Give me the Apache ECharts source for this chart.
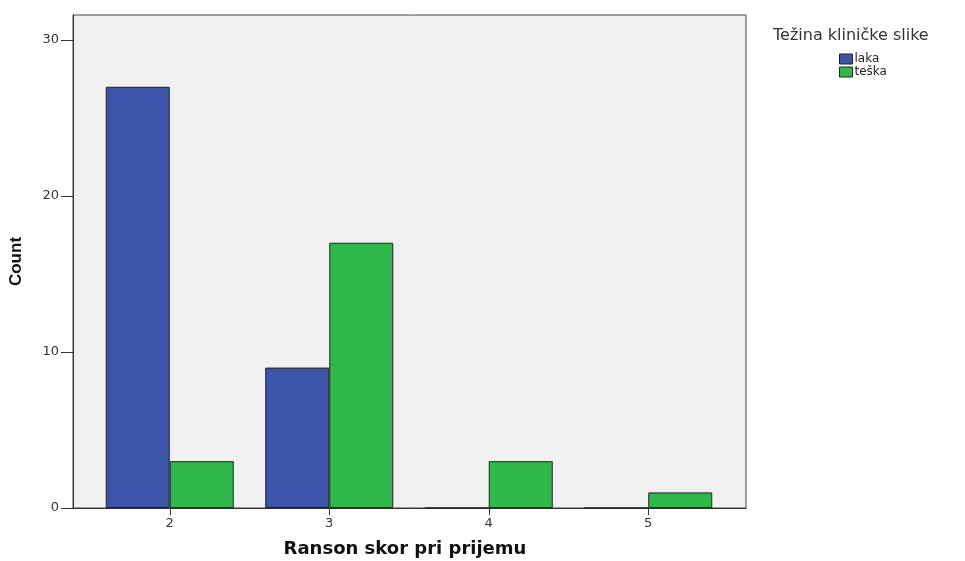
<!DOCTYPE html>
<html>
<head>
<meta charset="utf-8">
<script src="https://cdn.jsdelivr.net/npm/echarts@6/dist/echarts.min.js"></script>
<style>
  html, body { margin: 0; padding: 0; background: #fff; }
  #chart { width: 965px; height: 561px; }
</style>
</head>
<body>
<div id="chart"></div>
<script>
// data
var categories = ["2", "3", "4", "5"];
var laka = [27, 9, 0, 0];
var teska = [3, 17, 3, 1];
var yTicks = [0, 10, 20, 30];

var font = "'DejaVu Sans', Verdana, sans-serif";
var chart = echarts.init(document.getElementById("chart"));

var option = {
  animation: false,
  backgroundColor: "#fff",
  title: {
    text: "Težina kliničke slike",
    left: 768,
    top: 23,
    textStyle: { fontFamily: font, fontSize: 16, fontWeight: "normal", color: "#333" }
  },
  legend: {
    orient: "vertical",
    left: 834,
    top: 48,
    itemWidth: 13,
    itemHeight: 10,
    itemGap: 1,
    icon: "rect",
    data: ["laka", "teška"],
    itemStyle: { borderColor: "#222", borderWidth: 1 },
    textStyle: { fontFamily: font, fontSize: 12, color: "#222", padding: [0, 0, 0, -3] }
  },
  grid: [
    // frame / background of the plot
    { left: 73, right: 219, top: 15, bottom: 53, show: true, outerBoundsMode: "none",
      backgroundColor: "#f0f0f0", borderColor: "#444", borderWidth: 1 },
    // bars sit in an inner grid so the categories keep the side margins
    { left: 90, right: 237, top: 15, bottom: 53, outerBoundsMode: "none" }
  ],
  xAxis: [
    {
      gridIndex: 0, type: "value", min: 0, max: 1,
      axisLine: { show: true, lineStyle: { color: "#333", width: 1 } },
      axisTick: { show: false }, axisLabel: { show: false }, splitLine: { show: false }
    },
    {
      gridIndex: 1, type: "category", data: categories,
      axisLine: { show: false },
      axisTick: { show: true, alignWithLabel: true, length: 7, lineStyle: { color: "#333" } },
      axisLabel: { fontFamily: font, fontSize: 13, color: "#333", margin: 9 },
      name: "Ranson skor pri prijemu",
      nameLocation: "middle",
      nameGap: 32,
      nameTextStyle: { fontFamily: font, fontSize: 18, fontWeight: "bold", color: "#111", padding: [0, 0, 0, -8] }
    }
  ],
  yAxis: [
    {
      gridIndex: 0, type: "value", min: 0, max: 31.6, interval: 10,
      axisLine: { show: true, lineStyle: { color: "#333", width: 1 } },
      axisTick: { show: true, length: 12, customValues: yTicks, lineStyle: { color: "#333" } },
      axisLabel: { fontFamily: font, fontSize: 13, color: "#333", margin: 14, customValues: yTicks },
      splitLine: { show: false },
      name: "Count",
      nameLocation: "middle",
      nameGap: 48,
      nameTextStyle: { fontFamily: "'Liberation Sans Narrow', 'Liberation Sans', sans-serif", fontSize: 17, fontWeight: "bold", color: "#111" }
    },
    { gridIndex: 1, type: "value", min: 0, max: 31.6, show: false }
  ],
  series: [
    {
      name: "laka", type: "bar", xAxisIndex: 1, yAxisIndex: 1,
      data: laka, barWidth: 64, barGap: "0%",
      itemStyle: { color: "#3c55a8", borderColor: "#222", borderWidth: 1 }
    },
    {
      name: "teška", type: "bar", xAxisIndex: 1, yAxisIndex: 1,
      data: teska, barWidth: 64, barGap: "0%",
      itemStyle: { color: "#30b84a", borderColor: "#222", borderWidth: 1 }
    }
  ]
};

chart.setOption(option);
</script>
</body>
</html>
